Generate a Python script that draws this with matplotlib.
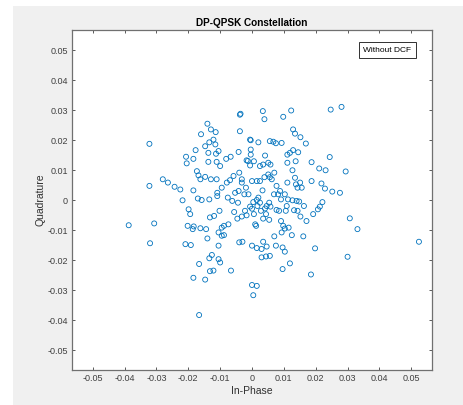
import numpy as np
import matplotlib
matplotlib.use("Agg")
from matplotlib import pyplot as plt
from matplotlib.patches import Rectangle

plt.rcParams['font.family'] = ['Liberation Sans', 'DejaVu Sans']
plt.rcParams['axes.unicode_minus'] = False

# symbols (in-phase, quadrature)
in_phase = [
    -0.0038, -0.0036, 0.0034, 0.0039, 0.0098, 0.0123, 0.0247, 0.0281,
    -0.0140, -0.0129, -0.0114, -0.0160, -0.0038, 0.0129, 0.0135, 0.0152,
    0.0169, -0.0006, -0.0004, 0.0020, 0.0056, 0.0067, 0.0075, 0.0093,
    -0.0134, -0.0121, -0.0115, -0.0147, -0.0177, -0.0322, -0.0137, -0.0113,
    -0.0105, -0.0042, -0.0004, -0.0004, -0.0207, -0.0184, -0.0205, -0.0137,
    -0.0111, -0.0100, -0.0081, -0.0067, -0.0017, -0.0013, 0.0041, -0.0006,
    0.0006, 0.0025, 0.0035, 0.0051, 0.0058, 0.0111, 0.0119, 0.0129,
    0.0145, 0.0111, 0.0137, 0.0127, 0.0187, 0.0244, 0.0211, 0.0231,
    0.0294, -0.0173, -0.0168, -0.0162, -0.0147, -0.0129, -0.0111, -0.0280,
    -0.0264, -0.0243, -0.0225, -0.0322, -0.0184, -0.0218, -0.0170, -0.0158,
    -0.0134, -0.0109, -0.0109, -0.0095, -0.0079, -0.0069, -0.0058, -0.0040,
    -0.0032, -0.0032, -0.0076, -0.0062, -0.0044, -0.0019, -0.0024, -0.0011,
    0.0000, 0.0015, 0.0025, 0.0039, 0.0051, 0.0056, 0.0062, 0.0070,
    0.0033, 0.0077, 0.0082, 0.0091, 0.0103, 0.0111, 0.0135, 0.0138,
    0.0151, 0.0156, 0.0143, 0.0187, 0.0218, 0.0229, 0.0252, 0.0276,
    0.0127, 0.0140, 0.0148, 0.0132, 0.0143, 0.0163, 0.0192, 0.0213,
    0.0221, 0.0207, 0.0171, 0.0152, 0.0307, 0.0331, 0.0524, -0.0387,
    -0.0307, -0.0320, -0.0199, -0.0194, -0.0202, -0.0183, -0.0186, -0.0162,
    -0.0144, -0.0140, -0.0132, -0.0119, -0.0102, -0.0095, -0.0088, -0.0074,
    -0.0105, -0.0095, -0.0088, -0.0105, -0.0209, -0.0192, -0.0056, -0.0046,
    -0.0032, -0.0022, -0.0017, -0.0006, 0.0000, 0.0004, 0.0015, 0.0020,
    0.0006, 0.0010, 0.0013, 0.0028, 0.0041, 0.0046, 0.0035, 0.0044,
    0.0054, 0.0077, 0.0085, 0.0070, 0.0091, 0.0098, 0.0103, 0.0115,
    0.0093, 0.0125, 0.0161, 0.0198, 0.0300, -0.0040, -0.0030, 0.0000,
    0.0015, 0.0030, 0.0046, 0.0075, 0.0096, 0.0103, 0.0035, -0.0053,
    -0.0042, 0.0017, 0.0025, 0.0054, 0.0058, 0.0106, 0.0109, 0.0113,
    0.0069, 0.0088, -0.0166, -0.0134, -0.0126, -0.0105, -0.0100, 0.0030,
    0.0044, 0.0056, 0.0119, -0.0132, -0.0121, -0.0184, -0.0147, -0.0066,
    0.0096, 0.0185, 0.0000, 0.0015, 0.0004, -0.0166,
]
quadrature = [
    0.0285, 0.0288, 0.0297, 0.0270, 0.0278, 0.0299, 0.0302, 0.0311,
    0.0255, 0.0236, 0.0227, 0.0220, 0.0230, 0.0236, 0.0222, 0.0210,
    0.0189, 0.0202, 0.0200, 0.0193, 0.0197, 0.0195, 0.0190, 0.0191,
    0.0193, 0.0202, 0.0186, 0.0180, 0.0167, 0.0188, 0.0158, 0.0155,
    0.0164, 0.0161, 0.0169, 0.0152, 0.0145, 0.0138, 0.0123, 0.0128,
    0.0128, 0.0114, 0.0138, 0.0145, 0.0133, 0.0131, 0.0149, 0.0116,
    0.0130, 0.0114, 0.0119, 0.0125, 0.0119, 0.0152, 0.0158, 0.0167,
    0.0160, 0.0125, 0.0130, 0.0100, 0.0127, 0.0144, 0.0106, 0.0100,
    0.0096, 0.0097, 0.0083, 0.0070, 0.0078, 0.0070, 0.0070, 0.0070,
    0.0059, 0.0045, 0.0036, 0.0048, 0.0033, 0.0000, 0.0006, 0.0001,
    0.0003, 0.0025, 0.0014, 0.0042, 0.0059, 0.0067, 0.0081, 0.0092,
    0.0070, 0.0059, 0.0009, -0.0002, -0.0008, 0.0042, 0.0020, 0.0020,
    0.0064, 0.0064, 0.0064, 0.0077, 0.0086, 0.0077, 0.0070, 0.0092,
    0.0033, 0.0048, 0.0020, 0.0003, 0.0020, 0.0059, 0.0075, 0.0053,
    0.0059, 0.0042, 0.0042, 0.0064, 0.0056, 0.0039, 0.0029, 0.0025,
    0.0000, -0.0002, -0.0004, -0.0033, -0.0035, -0.0019, -0.0046, -0.0021,
    -0.0006, -0.0030, -0.0069, -0.0054, -0.0060, -0.0096, -0.0138, -0.0083,
    -0.0077, -0.0143, -0.0030, -0.0046, -0.0085, -0.0087, -0.0096, -0.0093,
    -0.0096, -0.0127, -0.0057, -0.0052, -0.0035, -0.0091, -0.0085, -0.0080,
    -0.0107, -0.0118, -0.0116, -0.0151, -0.0146, -0.0149, -0.0039, -0.0061,
    -0.0054, -0.0035, -0.0050, -0.0021, -0.0028, -0.0006, 0.0001, 0.0009,
    -0.0046, -0.0080, -0.0085, -0.0035, -0.0027, -0.0019, -0.0061, -0.0046,
    -0.0065, -0.0032, -0.0035, -0.0120, -0.0069, -0.0085, -0.0094, -0.0091,
    -0.0107, -0.0116, -0.0120, -0.0160, -0.0188, -0.0140, -0.0138, -0.0151,
    -0.0159, -0.0162, -0.0154, -0.0151, -0.0157, -0.0171, -0.0138, 0.0025,
    0.0031, -0.0019, -0.0008, -0.0008, -0.0021, -0.0035, -0.0019, 0.0003,
    0.0020, 0.0031, -0.0212, -0.0193, -0.0182, -0.0196, -0.0207, -0.0190,
    -0.0187, -0.0185, -0.0210, -0.0236, -0.0234, -0.0258, -0.0264, -0.0234,
    -0.0229, -0.0247, -0.0282, -0.0285, -0.0316, -0.0382,
]
tick_vals = [-0.05, -0.04, -0.03, -0.02, -0.01, 0, 0.01, 0.02, 0.03, 0.04, 0.05]
tick_labels = ['-0.05', '-0.04', '-0.03', '-0.02', '-0.01', '0',
               '0.01', '0.02', '0.03', '0.04', '0.05']

fig = plt.figure(figsize=(4.63, 4.05), dpi=100, facecolor='white')
# grey matlab figure window area
fig.patches.append(Rectangle((13 / 463, 0), 1, 1 - 6 / 405, transform=fig.transFigure,
                             facecolor='#f0f0f0', edgecolor='none', zorder=-1))

ax = fig.add_axes([72 / 463, 35 / 405, 360 / 463, 340 / 405])
ax.set_facecolor('white')
ax.scatter(in_phase, quadrature, s=13, facecolors='none', edgecolors='#0072BD',
           linewidths=0.6)

ax.set_xlim(-0.0565, 0.0565)
ax.set_ylim(-0.0565, 0.0567)
ax.set_xticks(tick_vals)
ax.set_xticklabels(tick_labels)
ax.set_yticks(tick_vals)
ax.set_yticklabels(tick_labels)
ax.tick_params(direction='in', length=2.5, width=0.6, labelsize=6.5,
               colors='#404040', top=True, right=True, pad=3)
for s in ax.spines.values():
    s.set_color('#707070')
    s.set_linewidth(0.9)

ax.set_title('DP-QPSK Constellation', fontsize=7.2, fontweight='bold', pad=3)
ax.set_xlabel('In-Phase', fontsize=7.5, color='#303030', labelpad=2)
ax.set_ylabel('Quadrature', fontsize=7.5, color='#303030', labelpad=1)

ax.text(0.876, 0.94, 'Without DCF', transform=ax.transAxes, fontsize=6,
        ha='center', va='center',
        bbox=dict(boxstyle='square,pad=0.55', facecolor='white', edgecolor='#303030',
                  linewidth=0.7))

fig.savefig('out.png', dpi=100, facecolor=fig.get_facecolor())
